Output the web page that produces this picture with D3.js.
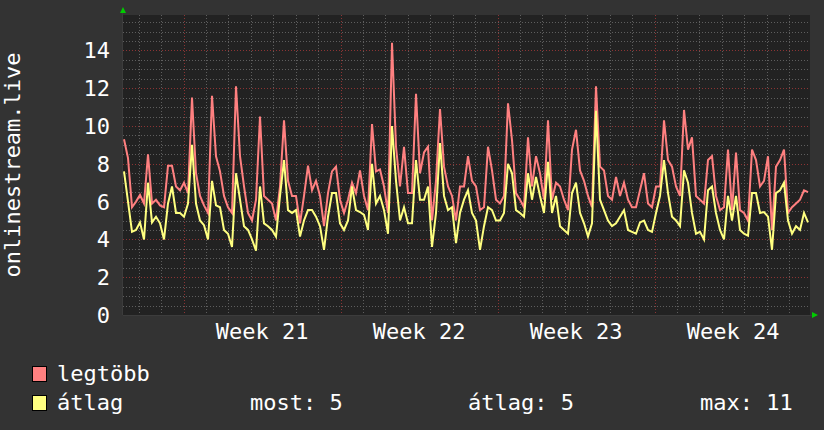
<!DOCTYPE html>
<html>
<head>
<meta charset="utf-8">
<script src="https://cdn.jsdelivr.net/npm/d3@7/dist/d3.min.js"></script>
<style>
    body { margin: 0; background: #333333; }
    svg text { font-family: "DejaVu Sans Mono", monospace; fill: #ffffff; }
</style>
</head>
<body>
<div id="chart"></div>
<script>
// tick labels
var yTicks = [0, 2, 4, 6, 8, 10, 12, 14];
var weekLabels = ['Week 21', 'Week 22', 'Week 23', 'Week 24'];
var weekStarts = [0, 7, 14, 21]; // days from start of week 21

// time window (days, relative to start of week 21) and sampling
var viewStart = -2.70, viewEnd = 27.93;
var firstSample = -2.655, sampleStep = 0.17834;

// series: "legtöbb" (max) and "átlag" (average)
var legtobb = [
    9.3, 8.3, 5.7, 6.0, 6.35, 5.9, 8.5, 5.9, 6.1, 5.8, 5.7, 7.9, 7.9, 6.8, 6.6, 7.0, 6.45, 11.5, 7.5, 6.3, 5.8, 5.4,
    11.6, 8.4, 7.6, 6.3, 5.7, 5.4, 12.1, 8.4, 6.8, 5.4, 5.0, 6.1, 10.5, 6.3, 6.1, 5.9, 5.0, 6.8, 10.3, 7.1, 6.3,
    6.3, 4.85, 6.3, 7.9, 6.6, 7.1, 6.3, 4.7, 6.45, 7.6, 7.85, 6.1, 5.4, 6.1, 7.0, 6.45, 7.65, 6.3, 5.55, 10.1, 7.6,
    7.7, 6.8, 5.4, 14.4, 8.9, 6.8, 8.9, 6.45, 6.45, 11.7, 7.5, 8.6, 8.9, 5.0, 7.1, 10.9, 7.85, 6.8, 6.3, 5.0, 6.8, 6.8,
    8.4, 7.1, 6.8, 5.55, 5.7, 8.9, 7.65, 6.1, 5.9, 6.3, 11.2, 9.25, 6.45, 6.1, 5.7, 9.4, 6.8, 8.4, 7.5, 6.1, 10.3,
    6.1, 7.0, 6.8, 6.1, 5.55, 8.75, 9.8, 7.65, 7.1, 6.3, 5.7, 12.1, 7.85, 7.65, 6.3, 6.1, 7.3, 6.3, 7.0, 6.1, 5.7,
    5.7, 6.6, 7.5, 5.9, 5.7, 6.8, 6.8, 10.3, 8.2, 7.85, 6.8, 6.3, 10.85, 8.75, 9.4, 6.3, 6.1, 5.9, 8.2, 8.4, 6.3,
    5.55, 5.7, 8.75, 5.55, 8.6, 5.55, 5.4, 5.0, 8.75, 8.2, 6.8, 7.1, 8.4, 4.5, 7.85, 8.2, 8.75, 5.4, 5.7, 5.9, 6.1, 6.6, 6.5
];
var atlag = [
    7.6, 6.0, 4.4, 4.5, 4.9, 4.0, 7.0, 4.9, 5.2, 4.85, 4.0, 5.9, 6.8, 5.4, 5.4, 5.2, 5.9, 9.0, 5.9, 5.0, 4.75, 4.0,
    7.1, 5.8, 5.7, 4.5, 4.3, 3.6, 7.5, 6.1, 4.7, 4.5, 4.0, 3.4, 6.8, 4.85, 4.7, 4.5, 4.15, 6.3, 8.2, 5.55, 5.4,
    5.55, 4.15, 5.0, 5.55, 5.55, 5.2, 4.7, 3.45, 5.2, 6.45, 6.45, 4.85, 4.5, 5.0, 6.8, 5.55, 5.45, 5.3, 4.5, 8.0, 5.9,
    6.3, 5.55, 4.3, 10.0, 7.1, 5.0, 5.7, 4.85, 4.85, 8.2, 6.1, 6.1, 6.8, 3.6, 5.4, 9.1, 6.3, 5.55, 5.7, 3.8, 5.4, 6.1,
    6.6, 5.4, 5.0, 3.45, 4.7, 5.7, 5.55, 5.0, 5.0, 5.4, 8.0, 7.5, 5.55, 5.4, 5.2, 7.5, 6.1, 7.3, 6.3, 5.4, 8.1,
    5.4, 6.3, 4.7, 4.5, 4.3, 6.45, 7.0, 5.4, 4.85, 4.15, 4.85, 10.8, 6.1, 5.55, 5.0, 4.7, 4.85, 5.2, 5.55, 4.5, 4.4,
    4.3, 4.9, 5.0, 4.5, 4.4, 5.4, 6.3, 8.2, 6.45, 5.2, 5.0, 4.7, 7.65, 7.0, 5.4, 4.3, 4.4, 4.0, 6.6, 6.8, 5.4,
    4.5, 4.0, 6.3, 5.0, 6.3, 4.5, 4.3, 4.2, 6.45, 6.45, 5.4, 5.45, 5.2, 3.45, 6.45, 6.6, 7.0, 5.0, 4.3, 4.7, 4.5, 5.4, 4.9
];

// legend
var seriesNames = ['legtöbb', 'átlag'];
var seriesColors = ['#ff8080', '#ffff80'];
var statLabels = ['most:', 'átlag:', 'max:'];
var statValues = [5, 5, 11];
var yTitle = 'onlinestream.live';

var width = 824, height = 430;
var plot = { left: 123, right: 810, top: 15, bottom: 315 };
var fontSize = 22;

var svg = d3.select('#chart').append('svg')
    .attr('width', width)
    .attr('height', height);

svg.append('rect')
    .attr('width', width)
    .attr('height', height)
    .attr('fill', '#333333');

var x = d3.scaleLinear()
    .domain([viewStart, viewEnd])
    .range([plot.left, plot.right]);

var y = d3.scaleLinear()
    .domain([0, 300 / 18.9])
    .range([plot.bottom, plot.top]);

// plot background
svg.append('rect')
    .attr('x', plot.left)
    .attr('y', plot.top)
    .attr('width', plot.right - plot.left)
    .attr('height', plot.bottom - plot.top)
    .attr('fill', '#222222');

var grid = svg.append('g').attr('shape-rendering', 'crispEdges');

// horizontal grid: minor every 0.5, major (red) every 2
var yMax = y.domain()[1];
d3.range(0.5, yMax, 0.5).forEach(function(v) {
    var major = v % 2 === 0;
    grid.append('line')
        .attr('x1', plot.left).attr('x2', plot.right)
        .attr('y1', Math.round(y(v)) + 0.5).attr('y2', Math.round(y(v)) + 0.5)
        .attr('stroke', major ? '#8c3434' : '#5e5e5e')
        .attr('stroke-dasharray', '1,2');
});

// vertical grid: minor every day, major (red) at each week start
var firstDay = Math.ceil(viewStart);
d3.range(firstDay, viewEnd, 1).forEach(function(d) {
    var major = weekStarts.indexOf(d) >= 0;
    grid.append('line')
        .attr('x1', Math.round(x(d)) + 0.5).attr('x2', Math.round(x(d)) + 0.5)
        .attr('y1', plot.top).attr('y2', plot.bottom)
        .attr('stroke', major ? '#8c3434' : '#5e5e5e')
        .attr('stroke-dasharray', '1,2');
});

// axis line
grid.append('line')
    .attr('x1', plot.left).attr('x2', plot.right + 2)
    .attr('y1', plot.bottom + 0.5).attr('y2', plot.bottom + 0.5)
    .attr('stroke', '#3c3c3c');
grid.append('line')
    .attr('x1', plot.left - 0.5).attr('x2', plot.left - 0.5)
    .attr('y1', plot.top - 2).attr('y2', plot.bottom)
    .attr('stroke', '#3c3c3c');

// arrows
svg.append('path')
    .attr('d', 'M' + (plot.left - 3) + ',' + (plot.top - 2) + 'L' + (plot.left + 3) + ',' + (plot.top - 2) + 'L' + plot.left + ',' + (plot.top - 8) + 'Z')
    .attr('fill', '#00cc00');
svg.append('path')
    .attr('d', 'M' + (plot.right + 2) + ',' + (plot.bottom - 3) + 'L' + (plot.right + 2) + ',' + (plot.bottom + 3) + 'L' + (plot.right + 8) + ',' + plot.bottom + 'Z')
    .attr('fill', '#00cc00');

// y tick labels
svg.selectAll('.ylab')
    .data(yTicks)
  .enter().append('text')
    .attr('class', 'ylab')
    .attr('x', 110)
    .attr('y', function(d) { return y(d); })
    .attr('dy', '0.36em')
    .attr('text-anchor', 'end')
    .style('font-size', fontSize + 'px')
    .text(function(d) { return d; });

// x labels, centred in each week
svg.selectAll('.xlab')
    .data(weekLabels)
  .enter().append('text')
    .attr('class', 'xlab')
    .attr('x', function(d, i) { return x(weekStarts[i] + 3.5); })
    .attr('y', 339)
    .attr('text-anchor', 'middle')
    .style('font-size', fontSize + 'px')
    .text(function(d) { return d; });

// y title
svg.append('text')
    .attr('transform', 'translate(20,' + ((plot.top + plot.bottom) / 2) + ') rotate(-90)')
    .attr('text-anchor', 'middle')
    .style('font-size', fontSize + 'px')
    .text(yTitle);

// lines
var line = d3.line()
    .x(function(d, i) { return x(firstSample + i * sampleStep); })
    .y(function(d) { return y(d); });

var clip = svg.append('clipPath').attr('id', 'plotclip')
    .append('rect')
    .attr('x', plot.left).attr('y', plot.top)
    .attr('width', plot.right - plot.left)
    .attr('height', plot.bottom - plot.top);

svg.selectAll('.series')
    .data([legtobb, atlag])
  .enter().append('path')
    .attr('class', 'series')
    .attr('clip-path', 'url(#plotclip)')
    .attr('d', line)
    .attr('fill', 'none')
    .attr('stroke-width', 2)
    .attr('stroke-linejoin', 'miter')
    .attr('stroke', function(d, i) { return seriesColors[i]; });

// legend
var legend = svg.append('g');
seriesNames.forEach(function(name, i) {
    var rowY = 366 + i * 29;
    legend.append('rect')
        .attr('x', 32.5).attr('y', rowY + 0.5)
        .attr('width', 14).attr('height', 15)
        .attr('fill', seriesColors[i])
        .attr('stroke', '#000');
    legend.append('text')
        .attr('x', 57)
        .attr('y', rowY + 15)
        .style('font-size', fontSize + 'px')
        .text(name);
});

var statX = [250, 468, 700];
statLabels.forEach(function(label, i) {
    legend.append('text')
        .attr('x', statX[i])
        .attr('y', 366 + 29 + 15)
        .style('font-size', fontSize + 'px')
        .text(label + ' ' + statValues[i]);
});
</script>
</body>
</html>
